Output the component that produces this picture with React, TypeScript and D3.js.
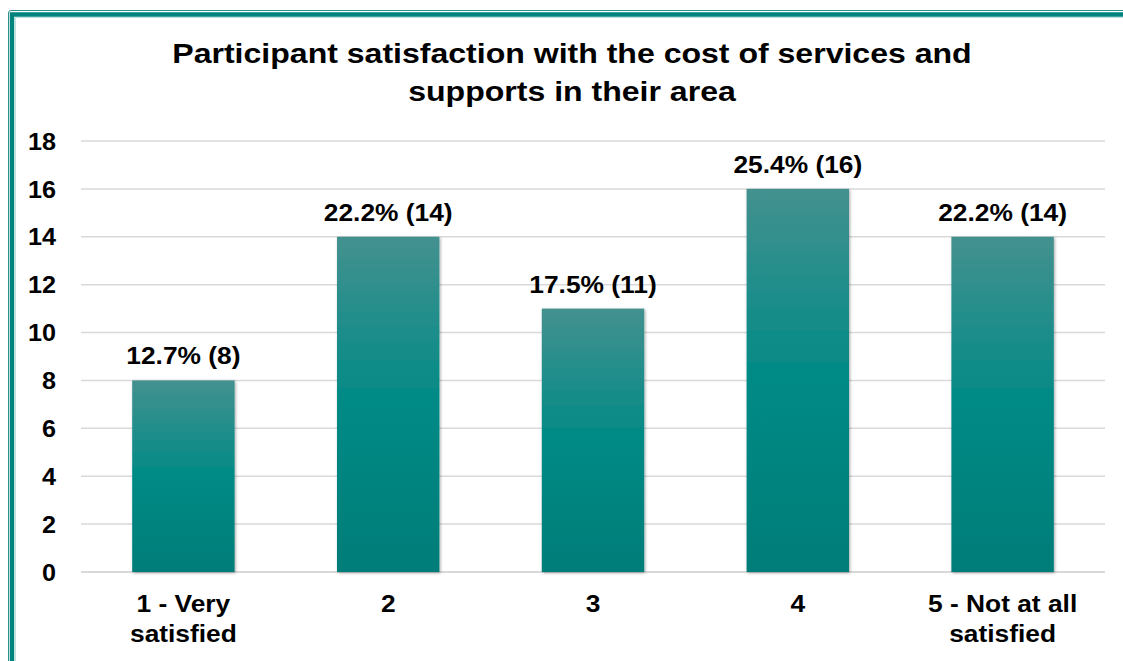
import React from "react";
import * as d3 from "d3";

const categories = ["1 - Very|satisfied", "2", "3", "4", "5 - Not at all|satisfied"];
const counts = [8, 14, 11, 16, 14];
const percents = ["12.7%", "22.2%", "17.5%", "25.4%", "22.2%"];
const yTicks = [0, 2, 4, 6, 8, 10, 12, 14, 16, 18];
const titleLines = ["Participant satisfaction with the cost of services and", "supports in their area"];

const W = 1123;
const H = 661;
const plotLeft = 81;
const plotRight = 1105;
const plotTop = 141;
const plotBottom = 572;
const SX = 1.145;

export default function App() {
  const x = d3.scaleBand<string>().domain(categories).range([plotLeft, plotRight]).paddingInner(0.5).paddingOuter(0.25);
  const y = d3.scaleLinear().domain([0, 18]).range([plotBottom, plotTop]);
  const font = "'Liberation Sans', Arial, sans-serif";
  const T = (props: { x: number; y: number; size: number; anchor?: string; dy?: string; children: React.ReactNode; sx?: number }) => (
    <text
      transform={`translate(${props.x},${props.y}) scale(${props.sx ?? SX},1)`}
      dy={props.dy}
      textAnchor={props.anchor ?? "middle"}
      fontFamily={font}
      fontWeight="bold"
      fontSize={props.size}
      fill="#000"
    >
      {props.children}
    </text>
  );
  return (
    <svg width={W} height={H} style={{ position: "fixed", left: 0, top: 0, background: "#fff" }}>
      <defs>
        <linearGradient id="barGrad" x1="0" y1="0" x2="0" y2="1">
          <stop offset="0%" stopColor="#43918f" />
          <stop offset="50%" stopColor="#008a86" />
          <stop offset="100%" stopColor="#007d78" />
        </linearGradient>
        <filter id="shadow" x="-10%" y="-10%" width="120%" height="120%">
          <feDropShadow dx="1" dy="1" stdDeviation="1.5" floodColor="#000" floodOpacity="0.35" />
        </filter>
      </defs>
      <rect x={0} y={0} width={W} height={H} fill="#fff" />
      {/* frame */}
      <path d={`M8.5,${H + 5} V13 Q8.5,10.5 11,10.5 H${W + 5}`} fill="none" stroke="#2e8f8a" strokeWidth={1} />
      <path d={`M12,${H + 5} V14.5 H${W + 5}`} fill="none" stroke="#00827d" strokeWidth={4.5} />
      <path d={`M15.5,${H + 5} V17.5 H${W + 5}`} fill="none" stroke="#bfe0de" strokeWidth={1} />
      {/* title */}
      {titleLines.map((t, i) => (
        <T key={i} x={572} y={63 + i * 38} size={28}>
          {t}
        </T>
      ))}
      {/* gridlines */}
      {yTicks.map((v) => (
        <g key={v}>
          <line x1={plotLeft} x2={plotRight} y1={y(v)} y2={y(v)} stroke="#d9d9d9" strokeWidth={v === 0 ? 2 : 1.5} />
          <T x={56} y={y(v)} dy="0.36em" anchor="end" size={24} sx={1.05}>
            {v}
          </T>
        </g>
      ))}
      {/* bars */}
      {categories.map((c, i) => (
        <g key={c}>
          <rect
            x={x(c)!}
            y={y(counts[i])}
            width={x.bandwidth()}
            height={y(0) - y(counts[i])}
            fill="url(#barGrad)"
            filter="url(#shadow)"
          />
          <T x={x(c)! + x.bandwidth() / 2} y={y(counts[i]) - 16} size={23}>
            {`${percents[i]} (${counts[i]})`}
          </T>
          {c.split("|").map((ln, j) => (
            <T key={j} x={x(c)! + x.bandwidth() / 2} y={612 + j * 30} size={23}>
              {ln}
            </T>
          ))}
        </g>
      ))}
    </svg>
  );
}
